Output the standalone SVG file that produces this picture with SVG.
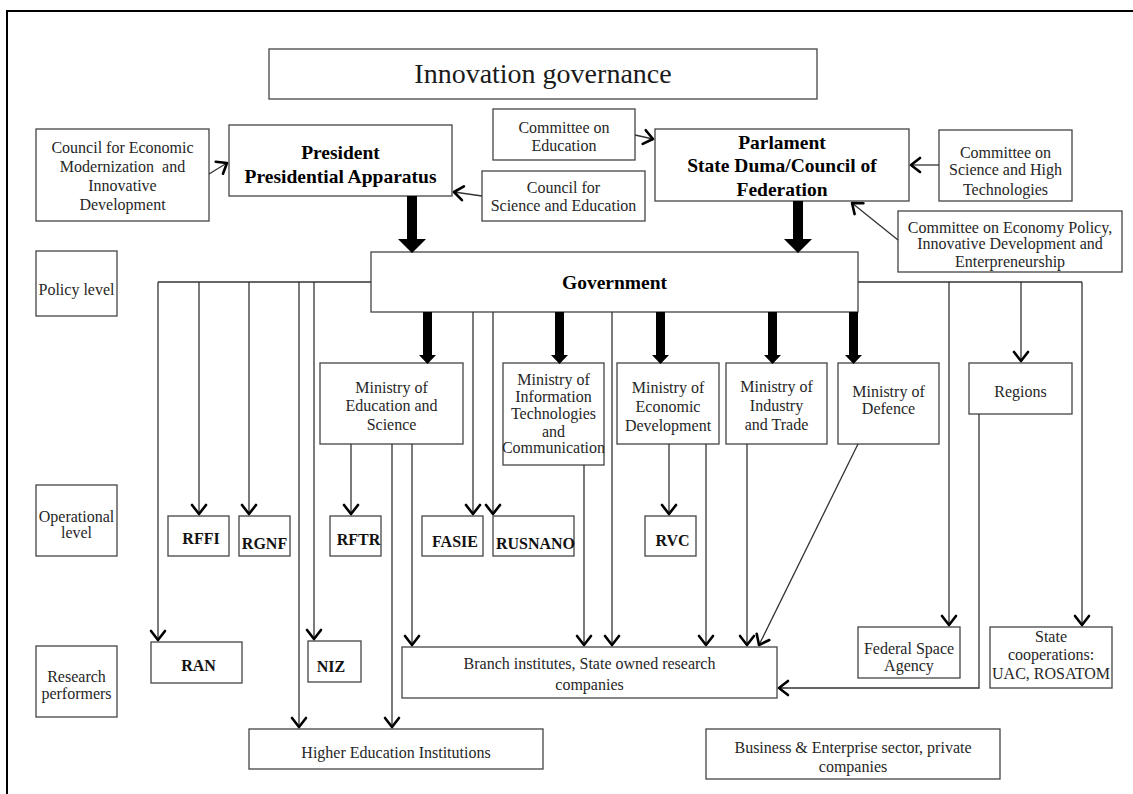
<svg xmlns="http://www.w3.org/2000/svg" width="1133" height="794" viewBox="0 0 1133 794">
  <defs>
    <style>
      .box { fill: #ffffff; stroke: #444444; stroke-width: 1.3; }
      .t { font-family: "Liberation Serif", "Times New Roman", serif; font-size: 16px; fill: #262626; text-anchor: middle; }
      .b { font-family: "Liberation Serif", "Times New Roman", serif; font-size: 16px; font-weight: bold; fill: #111111; text-anchor: middle; }
      .h { font-family: "Liberation Serif", "Times New Roman", serif; font-size: 19.5px; font-weight: bold; fill: #000000; text-anchor: middle; }
      .title { font-family: "Liberation Serif", "Times New Roman", serif; font-size: 28px; fill: #1a1a1a; text-anchor: middle; }
      .ln { fill: none; stroke: #333333; stroke-width: 1.3; }
      .arr { marker-end: url(#open); }
      .thick { fill: #000000; stroke: none; }
    </style>
    <marker id="open" viewBox="-12 -9 15 18" refX="0" refY="0" markerWidth="15" markerHeight="18" markerUnits="userSpaceOnUse" orient="auto">
      <path d="M-9,-7 L0,0 L-9,7" fill="none" stroke="#000000" stroke-width="2.6" stroke-linejoin="round" stroke-linecap="round"/>
    </marker>
  </defs>

  <rect width="1133" height="794" fill="#ffffff"/>
  <!-- outer frame (top and left edges) -->
  <path d="M7,794 V11 H1133" fill="none" stroke="#000000" stroke-width="2"/>

  <!-- nodes -->
  <g id="title">
    <rect class="box" x="269" y="49" width="548" height="50"/>
    <text class="title" x="543" y="83">Innovation governance</text>
  </g>

  <g id="council-econ">
    <rect class="box" x="36" y="129" width="173" height="92"/>
    <text class="t" x="122.5" y="153">Council for Economic</text>
    <text class="t" x="122.5" y="172" xml:space="preserve">Modernization  and</text>
    <text class="t" x="122.5" y="191">Innovative</text>
    <text class="t" x="122.5" y="210">Development</text>
  </g>

  <g id="president">
    <rect class="box" x="229" y="125" width="223" height="71"/>
    <text class="h" x="340.5" y="159">President</text>
    <text class="h" x="340.5" y="183">Presidential Apparatus</text>
  </g>

  <g id="committee-education">
    <rect class="box" x="493" y="109" width="142" height="51"/>
    <text class="t" x="564" y="133">Committee on</text>
    <text class="t" x="564" y="151">Education</text>
  </g>

  <g id="council-science">
    <rect class="box" x="482" y="171" width="163" height="50"/>
    <text class="t" x="563.5" y="193">Council for</text>
    <text class="t" x="563.5" y="211">Science and Education</text>
  </g>

  <g id="parlament">
    <rect class="box" x="655" y="129" width="254" height="72"/>
    <text class="h" x="782" y="149">Parlament</text>
    <text class="h" x="782" y="172">State Duma/Council of</text>
    <text class="h" x="782" y="196">Federation</text>
  </g>

  <g id="committee-science-tech">
    <rect class="box" x="939" y="130" width="133" height="71"/>
    <text class="t" x="1005.5" y="158">Committee on</text>
    <text class="t" x="1005.5" y="175">Science and High</text>
    <text class="t" x="1005.5" y="195">Technologies</text>
  </g>

  <g id="committee-economy">
    <rect class="box" x="898" y="211" width="224" height="61"/>
    <text class="t" x="1010" y="233">Committee on Economy Policy,</text>
    <text class="t" x="1010" y="249">Innovative Development and</text>
    <text class="t" x="1010" y="267">Enterpreneurship</text>
  </g>

  <g id="policy-level">
    <rect class="box" x="36" y="251" width="81" height="65"/>
    <text class="t" x="76.5" y="295">Policy level</text>
  </g>

  <g id="operational-level">
    <rect class="box" x="36" y="485" width="81" height="71"/>
    <text class="t" x="76.5" y="522">Operational</text>
    <text class="t" x="76.5" y="538">level</text>
  </g>

  <g id="research-performers">
    <rect class="box" x="36" y="646" width="81" height="71"/>
    <text class="t" x="76.5" y="682">Research</text>
    <text class="t" x="76.5" y="699">performers</text>
  </g>

  <g id="government">
    <rect class="box" x="371" y="252" width="487" height="60"/>
    <text class="h" x="614.5" y="289">Government</text>
  </g>

  <g id="min-education">
    <rect class="box" x="320" y="363" width="143" height="81"/>
    <text class="t" x="391.5" y="393">Ministry of</text>
    <text class="t" x="391.5" y="411">Education and</text>
    <text class="t" x="391.5" y="430">Science</text>
  </g>

  <g id="min-it">
    <rect class="box" x="503" y="363" width="101" height="102"/>
    <text class="t" x="553.5" y="385">Ministry of</text>
    <text class="t" x="553.5" y="402">Information</text>
    <text class="t" x="553.5" y="419">Technologies</text>
    <text class="t" x="553.5" y="437">and</text>
    <text class="t" x="553.5" y="453">Communication</text>
  </g>

  <g id="min-economic">
    <rect class="box" x="617" y="363" width="102" height="81"/>
    <text class="t" x="668" y="393">Ministry of</text>
    <text class="t" x="668" y="412">Economic</text>
    <text class="t" x="668" y="431">Development</text>
  </g>

  <g id="min-industry">
    <rect class="box" x="726" y="363" width="101" height="81"/>
    <text class="t" x="776.5" y="392">Ministry of</text>
    <text class="t" x="776.5" y="411">Industry</text>
    <text class="t" x="776.5" y="430">and Trade</text>
  </g>

  <g id="min-defence">
    <rect class="box" x="838" y="363" width="101" height="81"/>
    <text class="t" x="888.5" y="397">Ministry of</text>
    <text class="t" x="888.5" y="414">Defence</text>
  </g>

  <g id="regions">
    <rect class="box" x="969" y="363" width="103" height="51"/>
    <text class="t" x="1020.5" y="397">Regions</text>
  </g>

  <g id="rffi">
    <rect class="box" x="168" y="516" width="61" height="40"/>
    <text class="b" x="201" y="544">RFFI</text>
  </g>
  <g id="rgnf">
    <rect class="box" x="239" y="516" width="51" height="40"/>
    <text class="b" x="264.5" y="549">RGNF</text>
  </g>
  <g id="rftr">
    <rect class="box" x="330" y="516" width="51" height="40"/>
    <text class="b" x="358.5" y="545">RFTR</text>
  </g>
  <g id="fasie">
    <rect class="box" x="422" y="516" width="61" height="40"/>
    <text class="b" x="455" y="547">FASIE</text>
  </g>
  <g id="rusnano">
    <rect class="box" x="493" y="516" width="81" height="40"/>
    <text class="b" x="535.5" y="549">RUSNANO</text>
  </g>
  <g id="rvc">
    <rect class="box" x="645" y="516" width="51" height="40"/>
    <text class="b" x="672.5" y="546">RVC</text>
  </g>

  <g id="ran">
    <rect class="box" x="151" y="642" width="91" height="41"/>
    <text class="b" x="198.5" y="671">RAN</text>
  </g>
  <g id="niz">
    <rect class="box" x="308" y="641" width="53" height="41"/>
    <text class="b" x="331" y="672">NIZ</text>
  </g>

  <g id="branch-institutes">
    <rect class="box" x="402" y="647" width="375" height="51"/>
    <text class="t" x="589.5" y="669">Branch institutes, State owned research</text>
    <text class="t" x="589.5" y="690">companies</text>
  </g>

  <g id="federal-space">
    <rect class="box" x="858" y="627" width="102" height="51"/>
    <text class="t" x="909" y="654">Federal Space</text>
    <text class="t" x="909" y="671">Agency</text>
  </g>

  <g id="state-corporations">
    <rect class="box" x="990" y="627" width="122" height="61"/>
    <text class="t" x="1051" y="642">State</text>
    <text class="t" x="1051" y="660">cooperations:</text>
    <text class="t" x="1051" y="679">UAC, ROSATOM</text>
  </g>

  <g id="higher-education">
    <rect class="box" x="249" y="729" width="294" height="40"/>
    <text class="t" x="396" y="758">Higher Education Institutions</text>
  </g>

  <g id="business">
    <rect class="box" x="706" y="729" width="294" height="50"/>
    <text class="t" x="853" y="753">Business &amp; Enterprise sector, private</text>
    <text class="t" x="853" y="772">companies</text>
  </g>

  <!-- connectors -->
  <g id="connectors">
    <!-- advisory bodies to president and parliament -->
    <line class="ln arr" x1="209" y1="174" x2="227" y2="163"/>
    <line class="ln arr" x1="635" y1="135" x2="653" y2="139"/>
    <line class="ln arr" x1="482" y1="196" x2="454" y2="192"/>
    <line class="ln arr" x1="939" y1="165" x2="911" y2="165"/>
    <line class="ln arr" x1="898" y1="240" x2="852" y2="203"/>

    <!-- thick arrows into the government -->
    <polygon class="thick" points="407,196 417,196 417,239 426,239 412,253 398,239 407,239"/>
    <polygon class="thick" points="793,201 803,201 803,239 812,239 798,253 784,239 793,239"/>

    <!-- thick arrows from the government to ministries -->
    <polygon class="thick" points="423,312 432,312 432,355 436,355 427.5,364 419,355 423,355"/>
    <polygon class="thick" points="555,312 564,312 564,355 568,355 559.5,364 551,355 555,355"/>
    <polygon class="thick" points="656,312 665,312 665,355 669,355 660.5,364 652,355 656,355"/>
    <polygon class="thick" points="768,312 777,312 777,355 781,355 772.5,364 764,355 768,355"/>
    <polygon class="thick" points="849,312 858,312 858,355 862,355 853.5,364 845,355 849,355"/>

    <!-- government side branches -->
    <line class="ln" x1="371" y1="282" x2="158" y2="282"/>
    <line class="ln arr" x1="158" y1="282" x2="158" y2="640"/>
    <line class="ln arr" x1="199" y1="282" x2="199" y2="514"/>
    <line class="ln arr" x1="249" y1="282" x2="249" y2="514"/>
    <line class="ln arr" x1="299" y1="282" x2="299" y2="727"/>
    <line class="ln arr" x1="314" y1="282" x2="314" y2="639"/>

    <line class="ln" x1="858" y1="282" x2="1082" y2="282"/>
    <line class="ln arr" x1="949" y1="282" x2="949" y2="625"/>
    <line class="ln arr" x1="1021" y1="282" x2="1021" y2="361"/>
    <line class="ln arr" x1="1082" y1="282" x2="1082" y2="625"/>

    <!-- from government bottom -->
    <line class="ln arr" x1="473" y1="312" x2="473" y2="514"/>
    <line class="ln arr" x1="493" y1="312" x2="493" y2="514"/>
    <line class="ln arr" x1="612" y1="312" x2="612" y2="645"/>

    <!-- ministry of education and science -->
    <line class="ln arr" x1="351" y1="444" x2="351" y2="514"/>
    <line class="ln arr" x1="392" y1="444" x2="392" y2="727"/>
    <line class="ln arr" x1="412" y1="444" x2="412" y2="645"/>

    <!-- ministry of information technologies -->
    <line class="ln arr" x1="584" y1="465" x2="584" y2="645"/>

    <!-- ministry of economic development -->
    <line class="ln arr" x1="669" y1="444" x2="669" y2="514"/>
    <line class="ln arr" x1="706" y1="444" x2="706" y2="645"/>

    <!-- ministry of industry and trade -->
    <line class="ln arr" x1="747" y1="444" x2="747" y2="645"/>

    <!-- ministry of defence -->
    <line class="ln arr" x1="858" y1="444" x2="759" y2="645"/>

    <!-- regions to branch institutes -->
    <polyline class="ln arr" points="979,414 979,688 779,688"/>
  </g>
</svg>
